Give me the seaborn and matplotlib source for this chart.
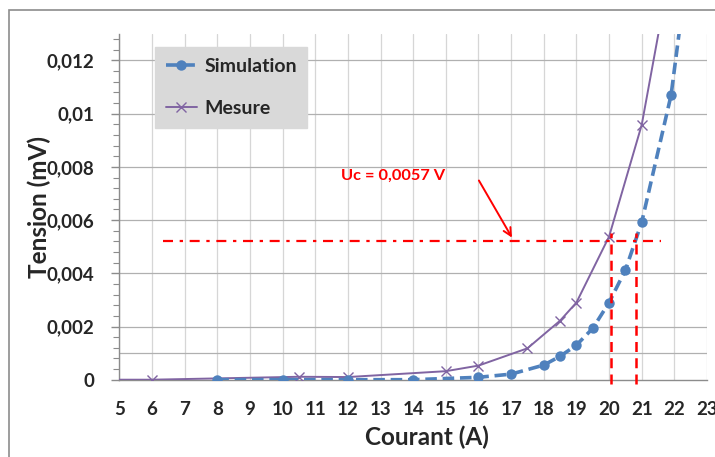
import matplotlib
matplotlib.use("Agg")
import matplotlib.pyplot as plt
import seaborn as sns
import pandas as pd
from matplotlib.patches import Rectangle
from matplotlib.lines import Line2D

# ---- data ----
sim_x = [8, 10, 12, 14, 16, 17, 18, 18.5, 19, 19.5, 20, 20.5, 21, 21.9, 22.3]
sim_y = [0, 0, 0, 0, 0.00009, 0.00021, 0.00055, 0.00088, 0.0013, 0.00193,
         0.0029, 0.00412, 0.00592, 0.0107, 0.0145]
mes_x = [5, 6, 10.5, 12, 15, 16, 17.5, 18.5, 19, 20, 21, 21.7]
mes_y = [0, 0, 0.00011, 0.0001, 0.00032, 0.00053, 0.00118, 0.00222, 0.0029,
         0.00538, 0.00958, 0.01427]
x_ticks = list(range(5, 24))
y_ticks = [0, 0.002, 0.004, 0.006, 0.008, 0.01, 0.012]
y_tick_labels = ["0", "0,002", "0,004", "0,006", "0,008", "0,01", "0,012"]
uc_level = 0.0052
uc_x_range = [6.35, 21.58]
cross_x = [20.07, 20.83]
cross_top = 0.0055
annot_text = "Uc = 0,0057 V"
series_names = ["Simulation", "Mesure"]

sns.set_theme(style="white")
plt.rcParams["font.family"] = ["Lato", "DejaVu Sans"]
plt.rcParams["font.weight"] = "bold"

W, H = 715, 457
fig = plt.figure(figsize=(W / 100, H / 100), dpi=100)
fig.patch.set_facecolor("white")

# outer chart border (partly cropped on right / bottom)
fig.patches.append(Rectangle((9 / W, -0.2), 1.2, 1 - 10 / H + 0.2,
                             transform=fig.transFigure, fill=False,
                             edgecolor="#8c8c8c", linewidth=1.2))

x0, x1 = 119.4, 707.0
y_zero, y_top = 379.7, 33.9
ax = fig.add_axes([x0 / W, 1 - y_zero / H, (x1 - x0) / W, (y_zero - y_top) / H])
ax.set_facecolor("white")
ax.set_xlim(5, 23)
ax.set_ylim(0, 0.013)

# grid
for xv in x_ticks:
    ax.axvline(xv, color="#d6d6d6", lw=0.9, zorder=0)
for yv in y_ticks[1:] + [0.001]:
    ax.axhline(yv, color="#b0b0b0", lw=0.9, zorder=0)

blue = "#4f81bd"
purple = "#8064a2"
red = "#ff0000"

df_sim = pd.DataFrame({"x": sim_x, "y": sim_y})
df_mes = pd.DataFrame({"x": mes_x, "y": mes_y})

sns.lineplot(data=df_mes, x="x", y="y", ax=ax, sort=False, color=purple,
             lw=1.4, marker="x", markersize=7, markeredgewidth=1.0,
             markeredgecolor=purple, markerfacecolor=purple,
             markevery=list(range(1, len(mes_x))), zorder=3)
sns.lineplot(data=df_sim, x="x", y="y", ax=ax, sort=False, color=blue,
             lw=2.6, linestyle=(0, (3.2, 1.6)), marker="o", markersize=7.5,
             markeredgewidth=0, markerfacecolor=blue, zorder=4)

# red annotation lines
ax.plot(uc_x_range, [uc_level, uc_level], color=red, lw=1.6,
        linestyle=(0, (4.5, 3, 1.5, 3)), zorder=5)
for cx in cross_x:
    ax.plot([cx, cx], [-0.00015, cross_top], color=red, lw=1.8,
            linestyle=(0, (4, 2.5)), zorder=5, clip_on=False)

ax.annotate("", xy=(17.07, 0.00525), xytext=(15.97, 0.00758),
            arrowprops=dict(arrowstyle="->", color=red, lw=1.4,
                            mutation_scale=14), zorder=6)
ax.text(13.39, 0.00766, annot_text, color=red, fontsize=11.8,
        fontweight="bold", ha="center", va="center")

# axes style
for s in ["top", "right"]:
    ax.spines[s].set_visible(False)
ax.spines["left"].set_color("#8c8c8c")
ax.spines["bottom"].set_color("#8c8c8c")
ax.spines["left"].set_linewidth(1)
ax.spines["bottom"].set_linewidth(1)

ax.set_xticks(x_ticks)
ax.set_xticklabels([str(v) for v in x_ticks])
ax.set_yticks(y_ticks)
ax.set_yticklabels(y_tick_labels)
ax.set_yticks([i * 0.0004 for i in range(33)], minor=True)
ax.tick_params(axis="y", which="major", direction="out", length=6, width=1,
               color="#8c8c8c", pad=12, labelsize=13.5, left=True)
ax.tick_params(axis="y", which="minor", direction="out", length=4, width=0.8,
               color="#8c8c8c", left=True)
ax.tick_params(axis="x", which="major", length=0, pad=15, labelsize=13.5)
for lab in ax.get_xticklabels() + ax.get_yticklabels():
    lab.set_fontweight("bold")

ax.set_xlabel("Courant (A)", fontsize=17.5, fontweight="bold")
ax.set_ylabel("Tension (mV)", fontsize=17.5, fontweight="bold")
ax.xaxis.set_label_coords((427 - x0) / (x1 - x0), (y_zero - 426) / (y_zero - y_top))
ax.yaxis.set_label_coords((51 - x0) / (x1 - x0), (y_zero - 207) / (y_zero - y_top))

handles = [
    Line2D([], [], color=blue, lw=2.6, linestyle=(0, (3.2, 1.6)), marker="o",
           markersize=7.5, markeredgewidth=0),
    Line2D([], [], color=purple, lw=1.4, marker="x", markersize=7,
           markeredgewidth=1.0),
]
leg = ax.legend(handles, series_names, loc="upper left",
                bbox_to_anchor=(155 / W, 1 - 47.3 / H, (307 - 155) / W, 0.001),
                bbox_transform=fig.transFigure, frameon=True, fancybox=False,
                facecolor="#d9d9d9", edgecolor="#d9d9d9", framealpha=1,
                prop={"size": 14, "weight": "bold"}, handlelength=1.6,
                handletextpad=0.4, labelspacing=1.3, borderpad=0.55,
                borderaxespad=0, mode="expand")
leg.set_zorder(10)

fig.savefig("out.png", dpi=100)
